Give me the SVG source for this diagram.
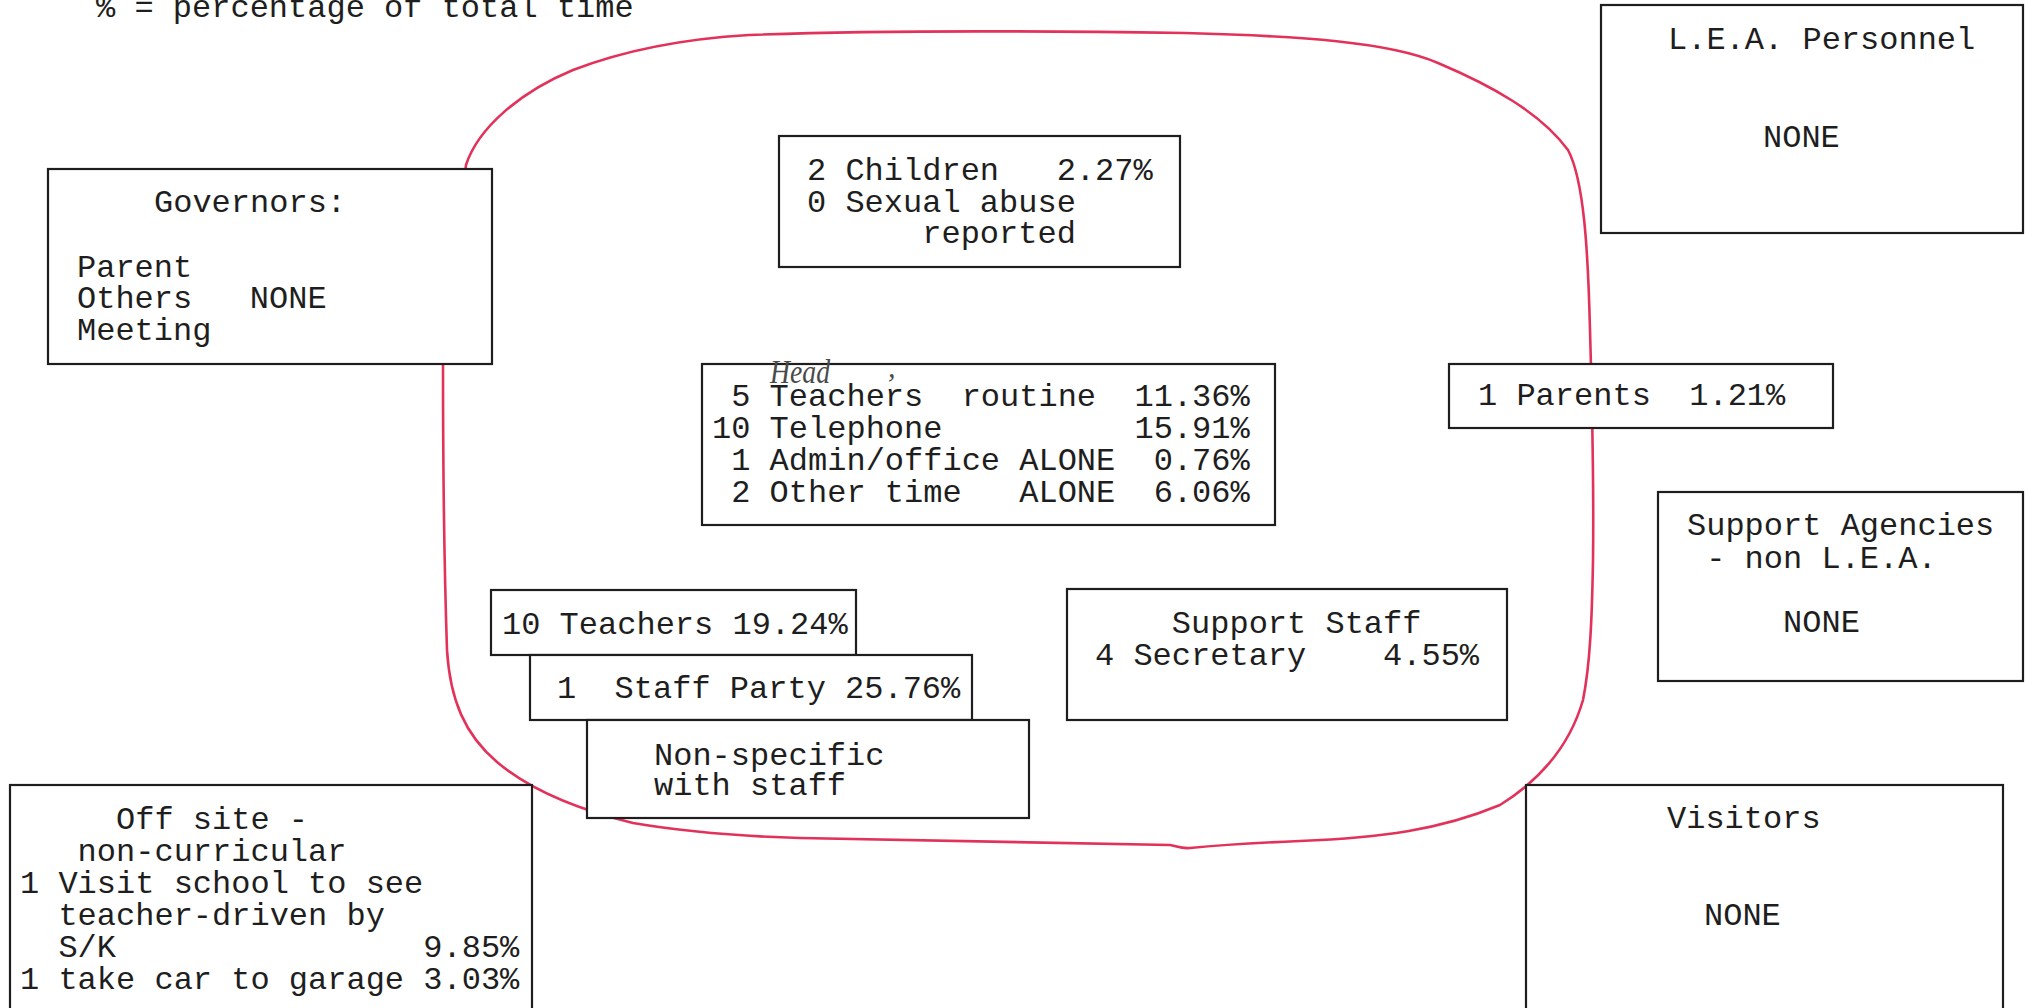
<svg xmlns="http://www.w3.org/2000/svg" width="2026" height="1008" viewBox="0 0 2026 1008" xml:space="preserve">
  <style>
    .t { font-family: "Liberation Mono", "DejaVu Sans Mono", monospace; font-size: 32px; fill: #1e1e1e; white-space: pre; }
    .box { fill: #ffffff; stroke: #1e1e1e; stroke-width: 2.2; }
    .loop { fill: none; stroke: #e2325a; stroke-width: 2.6; stroke-linecap: round; stroke-linejoin: round; }
    .hand { font-family: "Liberation Serif", "DejaVu Serif", serif; font-style: italic; fill: #4a4a4a; }
  </style>

  <rect x="0" y="0" width="2026" height="1008" fill="#ffffff"/>

  <!-- key -->
  <text class="t" x="96" y="17">% = percentage of total time</text>

  <!-- hand-drawn boundary round the school -->
  <g id="school-boundary">
    <path class="loop" d="M 466 165
      C 478 128, 520 92, 573 70
      C 620 52, 680 39, 749 35
      C 880 30, 1050 31, 1185 33
      C 1300 36, 1390 42, 1438 63
      C 1490 85, 1540 112, 1568 150
      C 1584 180, 1588 250, 1590 330
      C 1592 400, 1594 480, 1593 560
      C 1592 620, 1590 665, 1583 700
      C 1570 745, 1540 780, 1500 805
      C 1440 830, 1380 838, 1300 841
      C 1250 843, 1210 846, 1190 848
      C 1182 849, 1176 846, 1170 845
      C 1000 842, 900 840, 800 838
      C 730 836, 680 831, 633 823
      C 580 810, 530 790, 497 762
      C 465 735, 450 700, 447 650
      C 444 560, 443 450, 443 364
      L 466 165"/>
  </g>

  <g id="node-governors">
    <rect class="box" x="48" y="169" width="444" height="195"/>
    <text class="t" x="154" y="212">Governors:</text>
    <text class="t" x="77" y="277">Parent</text>
    <text class="t" x="77" y="308">Others   NONE</text>
    <text class="t" x="77" y="340">Meeting</text>
  </g>

  <g id="node-children">
    <rect class="box" x="779" y="136" width="401" height="131"/>
    <text class="t" x="807" y="180">2 Children   2.27%</text>
    <text class="t" x="807" y="212">0 Sexual abuse</text>
    <text class="t" x="807" y="243">      reported</text>
  </g>

  <g id="node-lea-personnel">
    <rect class="box" x="1601" y="5" width="422" height="228"/>
    <text class="t" x="1668" y="49">L.E.A. Personnel</text>
    <text class="t" x="1763" y="147">NONE</text>
  </g>

  <g id="node-head">
    <rect class="box" x="702" y="364" width="573" height="161"/>
    <text class="t" x="712" y="406"> 5 Teachers  routine  11.36%</text>
    <text class="t" x="712" y="438">10 Telephone          15.91%</text>
    <text class="t" x="712" y="470"> 1 Admin/office ALONE  0.76%</text>
    <text class="t" x="712" y="502"> 2 Other time   ALONE  6.06%</text>
    <text class="hand" x="770" y="383" font-size="34" textLength="60" lengthAdjust="spacingAndGlyphs">Head</text>
    <text class="hand" x="888" y="377" font-size="30">,</text>
  </g>

  <g id="node-parents">
    <rect class="box" x="1449" y="364" width="384" height="64"/>
    <text class="t" x="1478" y="405">1 Parents  1.21%</text>
  </g>

  <g id="node-support-agencies">
    <rect class="box" x="1658" y="492" width="365" height="189"/>
    <text class="t" x="1687" y="535">Support Agencies</text>
    <text class="t" x="1687" y="568"> - non L.E.A.</text>
    <text class="t" x="1687" y="632">     NONE</text>
  </g>

  <g id="node-teachers">
    <rect class="box" x="491" y="590" width="365" height="65"/>
    <text class="t" x="502" y="634">10 Teachers 19.24%</text>
  </g>

  <g id="node-staff-party">
    <rect class="box" x="530" y="655" width="442" height="65"/>
    <text class="t" x="557" y="698">1  Staff Party 25.76%</text>
  </g>

  <g id="node-non-specific">
    <rect class="box" x="587" y="720" width="442" height="98"/>
    <text class="t" x="654" y="765">Non-specific</text>
    <text class="t" x="654" y="795">with staff</text>
  </g>

  <g id="node-support-staff">
    <rect class="box" x="1067" y="589" width="440" height="131"/>
    <text class="t" x="1095" y="633">    Support Staff</text>
    <text class="t" x="1095" y="665">4 Secretary    4.55%</text>
  </g>

  <g id="node-off-site">
    <rect class="box" x="10" y="785" width="522" height="230"/>
    <text class="t" x="20" y="829">     Off site -</text>
    <text class="t" x="20" y="861">   non-curricular</text>
    <text class="t" x="20" y="893">1 Visit school to see</text>
    <text class="t" x="20" y="925">  teacher-driven by</text>
    <text class="t" x="20" y="957">  S/K                9.85%</text>
    <text class="t" x="20" y="989">1 take car to garage 3.03%</text>
  </g>

  <g id="node-visitors">
    <rect class="box" x="1526" y="785" width="477" height="230"/>
    <text class="t" x="1667" y="828">Visitors</text>
    <text class="t" x="1704" y="925">NONE</text>
  </g>
</svg>
